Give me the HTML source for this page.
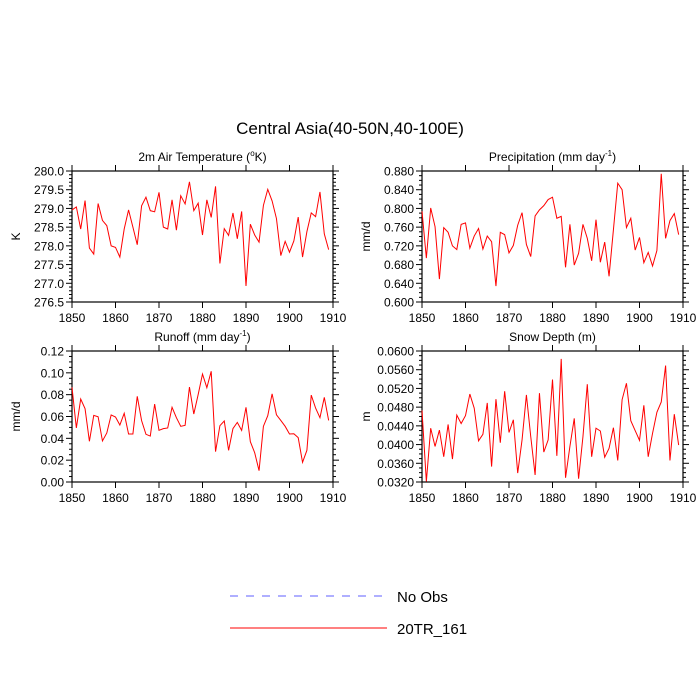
<!DOCTYPE html>
<html><head><meta charset="utf-8"><style>
body{margin:0;background:#fff}
svg{display:block;font-family:"Liberation Sans",sans-serif}
</style></head><body>
<svg id="chart" width="700" height="700">
<text x="350" y="134" text-anchor="middle" font-size="17">Central Asia(40-50N,40-100E)</text>
<g>
<line x1="230" y1="596" x2="387" y2="596" stroke="#5f5fff" stroke-width="1" stroke-dasharray="8,8"/>
<text x="397" y="602" font-size="15">No Obs</text>
<line x1="230" y1="628" x2="387" y2="628" stroke="#f00" stroke-width="1"/>
<text x="397" y="634" font-size="15">20TR_161</text>
</g>
</svg>
<script>
const years = [];
for (let y = 1850; y <= 1909; y++) years.push(y);
const xTicks = [1850, 1860, 1870, 1880, 1890, 1900, 1910];
const tempValues = [278.96,279.04,278.45,279.21,277.94,277.78,279.13,278.68,278.54,278.0,277.96,277.7,278.45,278.96,278.5,278.03,279.07,279.3,278.94,278.91,279.43,278.5,278.45,279.23,278.42,279.34,279.12,279.71,278.94,279.14,278.29,279.23,278.76,279.59,277.53,278.46,278.28,278.88,278.19,278.92,276.93,278.58,278.29,278.1,279.08,279.51,279.2,278.73,277.74,278.12,277.83,278.13,278.77,277.7,278.38,278.88,278.78,279.44,278.32,277.9];
const precValues = [0.794,0.694,0.801,0.761,0.649,0.759,0.749,0.72,0.712,0.766,0.769,0.715,0.741,0.757,0.713,0.741,0.729,0.634,0.749,0.744,0.705,0.721,0.764,0.791,0.723,0.697,0.784,0.797,0.806,0.819,0.824,0.779,0.783,0.674,0.766,0.679,0.704,0.766,0.736,0.688,0.776,0.685,0.728,0.655,0.754,0.854,0.84,0.759,0.779,0.711,0.738,0.684,0.706,0.677,0.71,0.874,0.736,0.774,0.789,0.744];
const runoffValues = [0.0867,0.0495,0.076,0.0672,0.0373,0.061,0.0598,0.0376,0.0449,0.0614,0.0595,0.0522,0.0629,0.044,0.044,0.0785,0.0562,0.0437,0.0421,0.0714,0.0473,0.0489,0.0495,0.0684,0.0589,0.051,0.0519,0.087,0.0623,0.08,0.0989,0.0864,0.1014,0.0278,0.0516,0.0559,0.029,0.0489,0.0546,0.0473,0.0684,0.0369,0.0268,0.0104,0.051,0.0607,0.0808,0.0616,0.0564,0.051,0.044,0.0442,0.0406,0.018,0.029,0.0796,0.0677,0.0589,0.0775,0.0564];
const snowValues = [0.0473,0.0321,0.0435,0.0396,0.0431,0.0374,0.0443,0.0369,0.0463,0.0445,0.0462,0.0508,0.0478,0.0408,0.0422,0.0489,0.0353,0.0497,0.0404,0.0514,0.0426,0.0453,0.0339,0.041,0.0506,0.0417,0.0335,0.051,0.0384,0.041,0.0539,0.0376,0.0583,0.0329,0.0396,0.0456,0.0327,0.0417,0.0529,0.0374,0.0435,0.0429,0.0373,0.0392,0.0436,0.0366,0.0496,0.0531,0.0451,0.043,0.0409,0.0484,0.0374,0.0424,0.0469,0.0491,0.0569,0.0366,0.0465,0.0399];
const tempTicks = ["276.5","277.0","277.5","278.0","278.5","279.0","279.5","280.0"];
const precTicks = ["0.600","0.640","0.680","0.720","0.760","0.800","0.840","0.880"];
const runoffTicks = ["0.00","0.02","0.04","0.06","0.08","0.10","0.12"];
const snowTicks = ["0.0320","0.0360","0.0400","0.0440","0.0480","0.0520","0.0560","0.0600"];

const NS = "http://www.w3.org/2000/svg";
const svg = document.getElementById('chart');
function mk(tag, attrs, parent) {
  const e = document.createElementNS(NS, tag);
  for (const k in attrs) e.setAttribute(k, attrs[k]);
  parent.appendChild(e);
  return e;
}
function panel(key, x0, y0, title, ylabel, values, ticks, minorPer, supTitle) {
  const w = 261, h = 131;
  const g = mk('g', {}, svg);
  
  
  const ymin = parseFloat(ticks[0]), ymax = parseFloat(ticks[ticks.length - 1]);
  const xs = v => x0 + (v - 1850) / 60 * w;
  const ys = v => y0 + h - (v - ymin) / (ymax - ymin) * h;
  const n = ticks.length - 1;
  for (let i = 0; i <= n * minorPer; i++) {
    const yy = y0 + h - i / (n * minorPer) * h;
    const major = i % minorPer === 0;
    const len = major ? 6 : 3;
    mk('line', {x1: x0 - len, x2: x0, y1: yy, y2: yy, stroke: '#000', 'stroke-width': 1}, g);
    mk('line', {x1: x0 + w, x2: x0 + w + len, y1: yy, y2: yy, stroke: '#000', 'stroke-width': 1}, g);
  }
  ticks.forEach((t, i) => {
    const tx = mk('text', {x: x0 - 8, y: ys(parseFloat(t)) + 4.5, 'text-anchor': 'end', 'font-size': 12}, g);
    
    
    tx.textContent = t;
  });
  xTicks.forEach(t => {
    const xx = xs(t);
    mk('line', {x1: xx, x2: xx, y1: y0 + h, y2: y0 + h + 6, stroke: '#000', 'stroke-width': 1}, g);
    mk('line', {x1: xx, x2: xx, y1: y0 - 6, y2: y0, stroke: '#000', 'stroke-width': 1}, g);
    const tx = mk('text', {x: xx, y: y0 + h + 20, 'text-anchor': 'middle', 'font-size': 12}, g);
    
    
    tx.textContent = t;
  });
  const fr = mk('rect', {x: x0, y: y0, width: w, height: h, fill: 'none', stroke: '#000', 'stroke-width': 1.2}, g);
  
  
  const ttl = mk('text', {x: x0 + w / 2, y: y0 - 10, 'text-anchor': 'middle', 'font-size': 12}, g);
  
  
  ttl.textContent = title;
  if (supTitle) {
    const s = mk('tspan', {'font-size': 8, dy: -5}, ttl); s.textContent = supTitle[0];
    const s2 = mk('tspan', {dy: 5}, ttl); s2.textContent = supTitle[1];
  }
  const yl = mk('text', {x: 0, y: 0, 'text-anchor': 'middle', 'font-size': 12, transform: `translate(${x0 - 52},${y0 + h / 2}) rotate(-90)`}, g);
  
  
  yl.textContent = ylabel;
  const pts = values.map((v, i) => xs(years[i]).toFixed(2) + ',' + ys(v).toFixed(2)).join(' ');
  const line = mk('polyline', {points: pts, fill: 'none', stroke: '#f00', 'stroke-width': 1}, g);
  
  
}
panel('temperature', 72, 171, '2m Air Temperature (', 'K', tempValues, tempTicks, 5, ['o', 'K)']);
panel('precipitation', 422, 171, 'Precipitation (mm day', 'mm/d', precValues, precTicks, 4, ['-1', ')']);
panel('runoff', 72, 351, 'Runoff (mm day', 'mm/d', runoffValues, runoffTicks, 4, ['-1', ')']);
panel('snow-depth', 422, 351, 'Snow Depth (m)', 'm', snowValues, snowTicks, 4, null);
</script>
</body></html>
